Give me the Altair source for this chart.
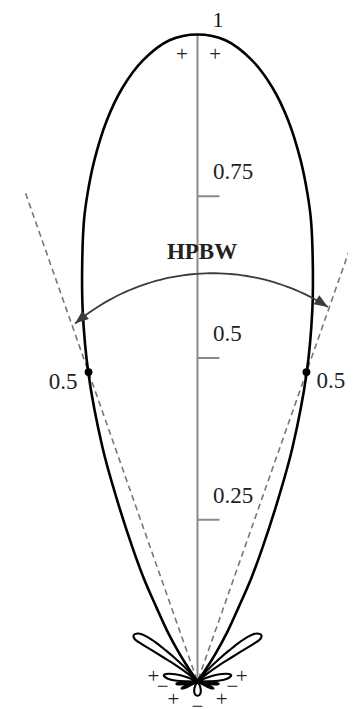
import numpy as np
import pandas as pd
import altair as alt

# ---------------- data ----------------
# main lobe, right half: angle from boresight (deg), normalized power
main_theta = [0, 2.5, 5, 7.2, 9.2, 11.2, 12.7, 13.8, 15.3, 17.2, 19.5, 22.1, 23.8, 25.9, 27.5, 29, 31, 33, 34.5, 36]
main_r = [1.0, 0.992, 0.964, 0.925, 0.878, 0.821, 0.773, 0.735, 0.675, 0.600, 0.505, 0.390, 0.311, 0.230, 0.180, 0.131, 0.090, 0.050, 0.020, 0.0]

# first side lobe (right), traced around its outline
side_theta = [37, 40, 42, 44, 45.5, 47, 49.5, 52, 54, 55.8, 56.2, 55.6, 54.8, 53.2, 51, 48]
side_r = [0, 0.018, 0.030, 0.050, 0.068, 0.090, 0.112, 0.120, 0.122, 0.118, 0.105, 0.085, 0.065, 0.045, 0.020, 0]

# small lobes near horizontal (right)
lobe2_theta = [62, 68, 72, 75, 78, 80, 82, 85, 88, 92]
lobe2_r = [0, 0.020, 0.036, 0.046, 0.052, 0.053, 0.051, 0.045, 0.032, 0]
lobe3_theta = [90, 92, 94, 96, 98, 101, 104]
lobe3_r = [0, 0.018, 0.028, 0.033, 0.032, 0.022, 0]
lobe4_theta = [104, 108, 111, 114, 117, 121]
lobe4_r = [0, 0.015, 0.024, 0.027, 0.021, 0]
# back lobe (full)
back_theta = [145, 150, 155, 160, 166, 172, 180, 188, 194, 200, 205, 210, 215]
back_r = [0, 0.006, 0.011, 0.015, 0.019, 0.021, 0.022, 0.021, 0.019, 0.015, 0.011, 0.006, 0]

tick_values = [0.25, 0.5, 0.75]
tick_labels = ["0.25", "0.5", "0.75"]
top_label = "1"

half_power_theta = 19.4
half_power_r = 0.507
half_power_label = "0.5"
dash_r = 0.8

# phase signs (x, y in pattern units)
sign_text = ["+", "+", "+", "\u2212", "+", "\u2212", "+", "\u2212", "+"]
sign_x = [-0.0240, 0.0275, -0.0683, -0.0540, -0.0374, 0.0, 0.0374, 0.0540, 0.0683]
sign_y = [0.968, 0.968, 0.0075, -0.0080, -0.0285, -0.0390, -0.0285, -0.0080, 0.0075]

hpbw_text = "HPBW"
hpbw_x, hpbw_y = 0.007, 0.664
arc_cx, arc_cy, arc_rad = 0.0235, 0.3015, 0.3295
arc_a0, arc_a1 = -40.2, 32.7

# ---------------- layout ----------------
PX = 647.0          # pixels per unit radius
W, H = 340, 701
ox, oy = 197.5 - 8, 681.5 - 8   # origin inside plot area
xdom = [-ox / PX, (W - ox) / PX]
ydom = [-(H - oy) / PX, oy / PX]
xs = alt.Scale(domain=xdom, nice=False, zero=False)
ys = alt.Scale(domain=ydom, nice=False, zero=False)
SERIF = "Liberation Serif, Times New Roman, serif"


def polar(theta, r):
    t = np.radians(np.asarray(theta, float))
    r = np.asarray(r, float)
    return r * np.sin(t), r * np.cos(t)


rows = []
def add(name, theta, r):
    x, y = polar(theta, r)
    for i, (a, b) in enumerate(zip(x, y)):
        rows.append({"lobe": name, "i": i, "x": a, "y": b})

# main lobe: mirror of the right half
mt = [-t for t in main_theta[::-1]] + main_theta[1:]
mr = main_r[::-1] + main_r[1:]
add("main", mt, mr)
for nm, th, rr in [("s", side_theta, side_r), ("l2", lobe2_theta, lobe2_r),
                   ("l3", lobe3_theta, lobe3_r), ("l4", lobe4_theta, lobe4_r)]:
    add(nm + "R", th, rr)
    add(nm + "L", [-t for t in th], rr)
add("back", back_theta, back_r)
lobes = pd.DataFrame(rows)

enc = dict(x=alt.X("x:Q", scale=xs, axis=None), y=alt.Y("y:Q", scale=ys, axis=None))

main_line = alt.Chart(lobes[lobes.lobe == "main"]).mark_line(
    color="black", strokeWidth=2.6, interpolate="catmull-rom").encode(order="i:Q", **enc)
minor_lines = alt.Chart(lobes[lobes.lobe != "main"]).mark_line(
    color="black", strokeWidth=2.1, interpolate="catmull-rom").encode(
    order="i:Q", detail="lobe:N", **enc)

axis_df = pd.DataFrame({"x": [0.0, 0.0], "y": [0.0, 1.0]})
axis_line = alt.Chart(axis_df).mark_line(color="#8a8a8a", strokeWidth=2).encode(**enc)

tick_df = pd.DataFrame({"y": tick_values, "x": 0.0, "x2": 22 / PX, "lab": tick_labels})
ticks = alt.Chart(tick_df).mark_rule(color="#8a8a8a", strokeWidth=2).encode(
    x=alt.X("x:Q", scale=xs, axis=None), x2="x2:Q", y=alt.Y("y:Q", scale=ys, axis=None))
tick_text = alt.Chart(tick_df).mark_text(
    align="left", baseline="middle", dx=15.5, dy=-24, font=SERIF,
    fontSize=23, color="#222").encode(text="lab:N", **enc)
top_df = pd.DataFrame({"x": [0.0], "y": [1.0], "lab": [top_label]})
top_text = alt.Chart(top_df).mark_text(
    align="center", baseline="middle", dx=20.5, dy=-15, font=SERIF,
    fontSize=22, color="#111").encode(text="lab:N", **enc)

# dashed half-power directions
dx_, dy_ = polar([-half_power_theta, 0, half_power_theta], [dash_r, 0, dash_r])
dash_df = pd.DataFrame({"x": dx_, "y": dy_, "i": [0, 1, 2]})
dashes = alt.Chart(dash_df).mark_line(color="#777777", strokeWidth=1.6, strokeDash=[6, 4]).encode(
    order="i:Q", **enc)

hx, hy = polar([-half_power_theta, half_power_theta], [half_power_r, half_power_r])
dot_df = pd.DataFrame({"x": hx, "y": hy, "lab": [half_power_label] * 2})
dots = alt.Chart(dot_df).mark_circle(color="black", size=62, opacity=1).encode(**enc)
dot_text_l = alt.Chart(dot_df.iloc[[0]]).mark_text(
    align="right", baseline="middle", dx=-11, dy=10, font=SERIF,
    fontSize=23, color="#222").encode(text="lab:N", **enc)
dot_text_r = alt.Chart(dot_df.iloc[[1]]).mark_text(
    align="left", baseline="middle", dx=10, dy=9, font=SERIF,
    fontSize=23, color="#222").encode(text="lab:N", **enc)

# HPBW arc with arrowheads
aa = np.radians(np.linspace(arc_a0, arc_a1, 60))
arc_df = pd.DataFrame({"x": arc_cx + arc_rad * np.sin(aa), "y": arc_cy + arc_rad * np.cos(aa),
                       "i": np.arange(60)})
arc = alt.Chart(arc_df).mark_line(color="#3c3c3c", strokeWidth=1.8).encode(order="i:Q", **enc)
ends = np.radians([arc_a0, arc_a1])
head_df = pd.DataFrame({
    "x": arc_cx + arc_rad * np.sin(ends), "y": arc_cy + arc_rad * np.cos(ends),
    "ang": [180 - arc_a0 + 10, 90 + arc_a1],
})
heads = alt.Chart(head_df).mark_point(
    shape="M0,0L-1.05,2.7L1.05,2.7Z", size=100, filled=True, color="#3c3c3c", opacity=1).encode(
    angle=alt.Angle("ang:Q", scale=None), **enc)
hpbw_df = pd.DataFrame({"x": [hpbw_x], "y": [hpbw_y], "lab": [hpbw_text]})
hpbw = alt.Chart(hpbw_df).mark_text(
    align="center", baseline="middle", font=SERIF, fontSize=23,
    fontWeight="bold", color="#222").encode(text="lab:N", **enc)

sign_df = pd.DataFrame({"x": sign_x, "y": sign_y, "lab": sign_text})
signs = alt.Chart(sign_df).mark_text(
    align="center", baseline="middle", font=SERIF, fontSize=21,
    color="#222").encode(text="lab:N", **enc)

chart = alt.layer(
    axis_line, ticks, dashes, main_line, minor_lines, arc, heads, dots,
    tick_text, top_text, dot_text_l, dot_text_r, hpbw, signs,
).properties(
    width=W, height=H, padding=0, autosize=alt.AutoSizeParams(type="none"),
    background="white",
).configure_view(stroke=None)

chart.save("out.html", embed_options={"renderer": "svg", "actions": False})
